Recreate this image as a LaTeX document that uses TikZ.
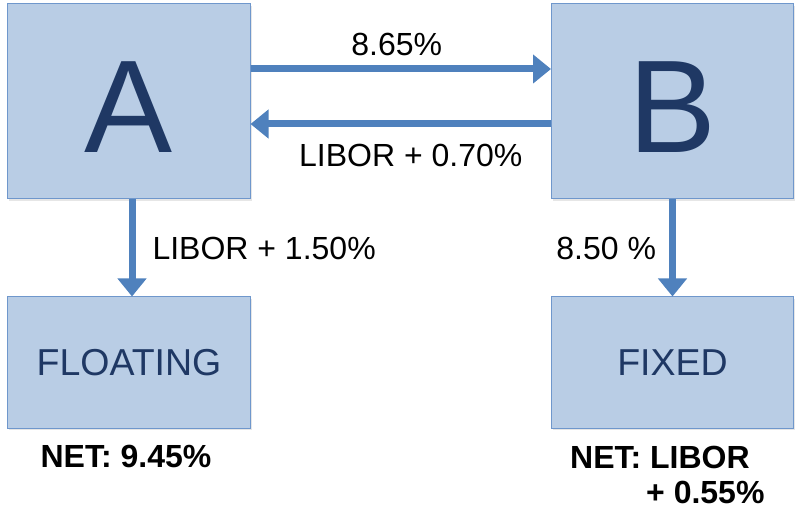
\documentclass[tikz,border=0pt]{standalone}
\usepackage{fontspec}
\setmainfont{Liberation Sans}
\usetikzlibrary{arrows.meta,positioning,shadows}
\definecolor{boxfill}{HTML}{B9CDE5}
\definecolor{boxline}{HTML}{6F97CC}
\definecolor{flowblue}{HTML}{4F81BD}
\definecolor{navy}{HTML}{1F3864}
\tikzset{
    party/.style={
        draw=boxline, fill=boxfill, line width=1bp,
        minimum width=242bp, text=navy, inner sep=0pt,
        drop shadow={opacity=0.2, shadow xshift=1.5bp, shadow yshift=-2bp},
    },
    flow/.style={
        draw=flowblue, line width=7bp,
        -{Triangle[length=18bp,width=28bp]},
    },
    lbl/.style={inner sep=2bp, font=\fontsize{32bp}{35bp}\selectfont},
    net/.style={inner sep=0pt, align=left, font=\fontsize{32bp}{35bp}\selectfont\bfseries},
}

\begin{document}
\begin{tikzpicture}[x=1bp,y=-1bp]
\useasboundingbox (0,0) rectangle (800,517);

% Parties
\node[party,minimum height=195bp,font=\fontsize{132bp}{140bp}\selectfont] (A) at (129,101.5) {\raisebox{-6bp}[\height][0pt]{A}};
\node[party,minimum height=195bp,font=\fontsize{132bp}{140bp}\selectfont] (B) at (672.5,101.5) {\raisebox{-6bp}[\height][0pt]{B}};

% Legs
\node[party,minimum height=131bp,font=\fontsize{37.5bp}{40bp}\selectfont] (floating) at (129,362.5) {FLOATING};
\node[party,minimum height=131bp,font=\fontsize{37.5bp}{40bp}\selectfont] (fixed) at (672.5,362.5) {FIXED};

% Swap Arrows
\draw[flow] ([yshift=32.5bp]A.east) -- node[lbl,above=8bp,xshift=-4bp] (fixrate) {8.65\%} ([yshift=32.5bp]B.west);
\draw[flow] ([yshift=-22.5bp]B.west) -- node[lbl,below=15bp,xshift=10bp] (floatrate) {LIBOR + 0.70\%} ([yshift=-22.5bp]A.east);

% Loan Arrows
\draw[flow] ([xshift=3bp]A.south) -- node[lbl,right=15bp] (loanA) {LIBOR + 1.50\%} ([xshift=3bp]floating.north);
\draw[flow] (B.south) -- node[lbl,left=11bp] (loanB) {8.50 \%} (fixed.north);

% Net Rates
\node[net,below=16bp of floating,xshift=-3bp] (netA) {NET: 9.45\%};
\node[net,anchor=north west] (netB) at ([xshift=19bp,yshift=-17bp]fixed.south west) {NET: LIBOR\\\hspace*{76bp}+ 0.55\%};

\end{tikzpicture}
\end{document}
